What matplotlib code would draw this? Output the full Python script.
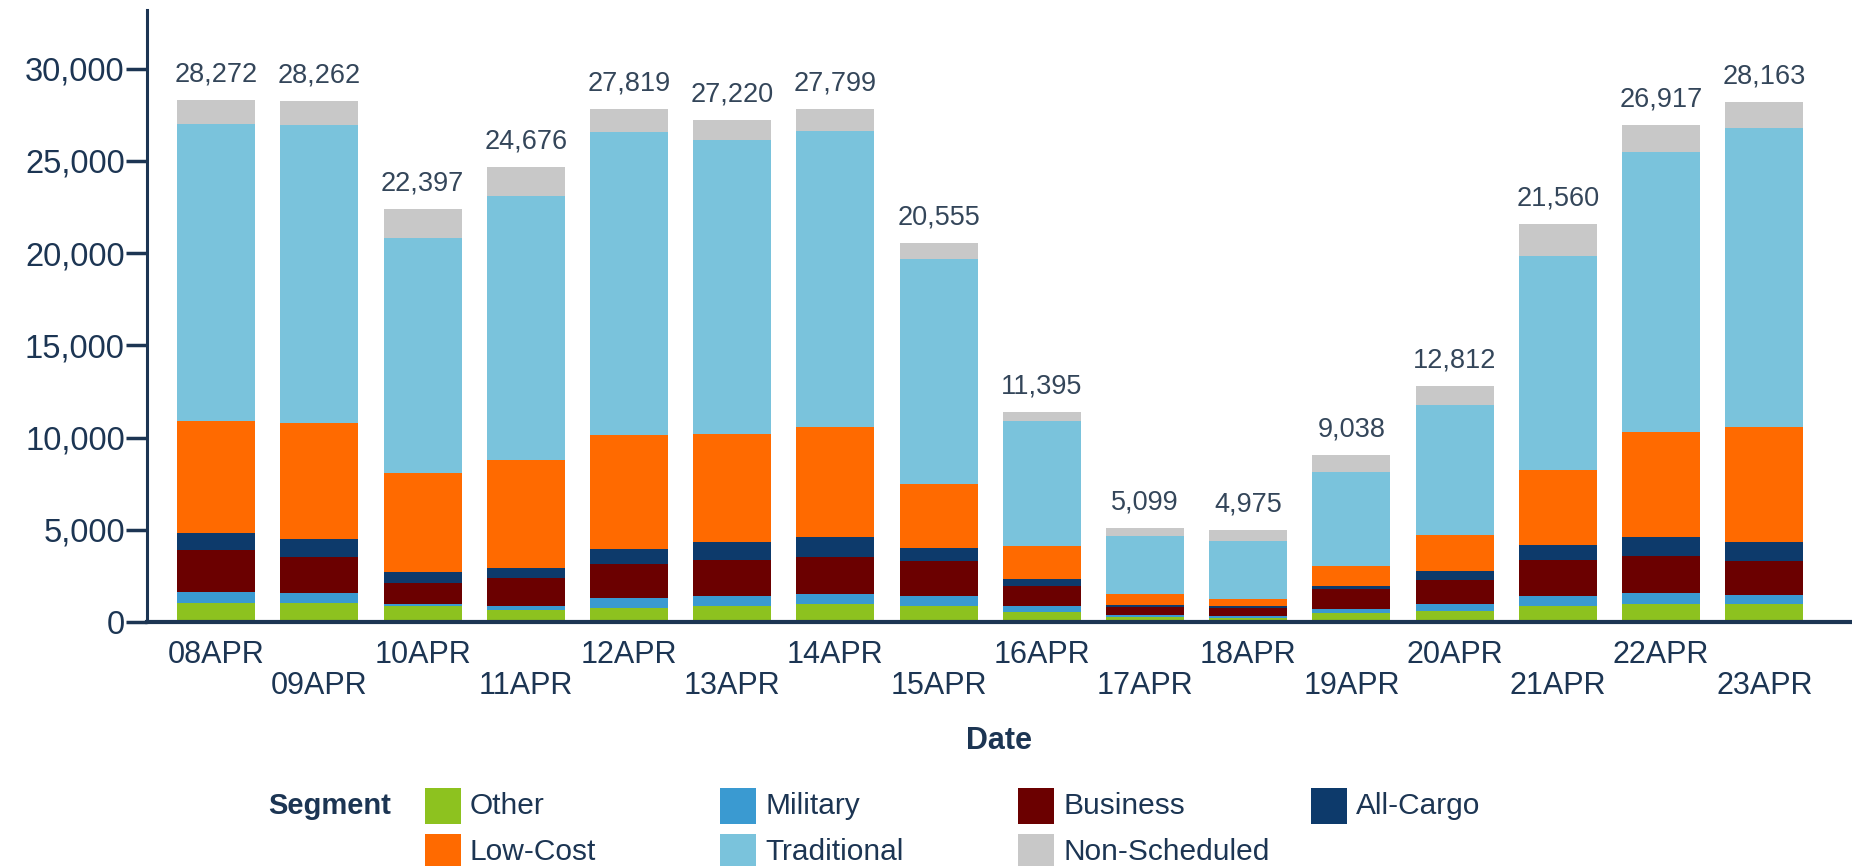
import numpy as np
import matplotlib.pyplot as plt
from matplotlib.patches import Rectangle

plt.rcParams['font.family'] = ['Liberation Sans', 'DejaVu Sans']

dates = ['08APR', '09APR', '10APR', '11APR', '12APR', '13APR', '14APR', '15APR',
         '16APR', '17APR', '18APR', '19APR', '20APR', '21APR', '22APR', '23APR']

segments = ['Other', 'Military', 'Business', 'All-Cargo', 'Low-Cost', 'Traditional', 'Non-Scheduled']
colors = ['#8dc21f', '#3a9ad1', '#6b0000', '#0d3a6b', '#ff6a00', '#7ac3dc', '#c8c8c8']

other = [1050, 1042, 862, 647, 773, 862, 952, 862, 539, 270, 234, 503, 593, 862, 952, 952]
military = [570, 539, 126, 215, 539, 540, 539, 540, 323, 107, 89, 180, 359, 540, 593, 504]
business = [2260, 1941, 1132, 1528, 1851, 1976, 2031, 1887, 1079, 432, 450, 1132, 1312, 1940, 2013, 1833]
all_cargo = [970, 970, 575, 539, 790, 935, 1078, 718, 395, 107, 89, 162, 521, 845, 1024, 1042]
low_cost = [6070, 6276, 5385, 5871, 6195, 5902, 5946, 3473, 1774, 575, 396, 1042, 1941, 4038, 5699, 6260]
traditional = [16098, 16184, 12748, 14283, 16428, 15919, 16074, 12176, 6812, 3145, 3109, 5085, 7037, 11608, 15190, 16206]
non_scheduled = [1254, 1310, 1569, 1593, 1243, 1086, 1179, 899, 473, 463, 608, 934, 1049, 1727, 1446, 1366]

navy = '#1c3553'
label_col = '#34465a'

data = np.array([other, military, business, all_cargo, low_cost, traditional, non_scheduled])
x = np.arange(len(dates))

fig = plt.figure(figsize=(18.52, 8.66), dpi=100)
ax = fig.add_axes([147 / 1852, 1 - 622 / 866, 1 - 147 / 1852, 612.5 / 866])

bottom = np.zeros(len(dates))
for vals, col in zip(data, colors):
    ax.bar(x, vals, 0.755, bottom=bottom, color=col, linewidth=0)
    bottom += vals

for xi, tot in zip(x, bottom):
    ax.annotate(f"{int(tot):,}", (xi, tot), xytext=(0, 9), textcoords='offset points',
                ha='center', va='bottom', fontsize=19.5, color=label_col)

ax.set_xlim(-0.67, 15.85)
ax.set_ylim(0, 33200)
ax.set_yticks(np.arange(0, 30001, 5000))
ax.set_yticklabels([f"{v:,}" for v in range(0, 30001, 5000)])
ax.set_xticks(x)
ax.set_xticklabels([d if i % 2 == 0 else '\n' + d for i, d in enumerate(dates)], linespacing=1.05)

ax.tick_params(axis='y', length=15, width=2.5, color=navy, labelsize=23.5, labelcolor=navy, pad=1)
ax.tick_params(axis='x', length=0, labelsize=22, labelcolor=navy, pad=13)

for s in ['top', 'right']:
    ax.spines[s].set_visible(False)
ax.spines['left'].set_color(navy)
ax.spines['left'].set_linewidth(2.2)
ax.spines['bottom'].set_color(navy)
ax.spines['bottom'].set_linewidth(3)

ax.set_xlabel('Date', fontsize=22, fontweight='bold', color=navy, labelpad=18)

# legend drawn by hand in figure pixels
W, H = 1852, 866
fig.text(268 / W, 1 - 806 / H, 'Segment', fontsize=21, fontweight='bold', color=navy,
         ha='left', va='center')
col_x = [425, 720, 1018, 1311]
row_y = [806, 852]
for k in range(len(segments)):
    cx = col_x[k % 4]
    cy = row_y[k // 4]
    fig.add_artist(Rectangle((cx / W, 1 - (cy + 18) / H), 36 / W, 36 / H,
                             transform=fig.transFigure, color=colors[k], linewidth=0))
    fig.text((cx + 45) / W, 1 - cy / H, segments[k], fontsize=21.5, color=navy,
             ha='left', va='center')

fig.savefig('out.png', dpi=100)
